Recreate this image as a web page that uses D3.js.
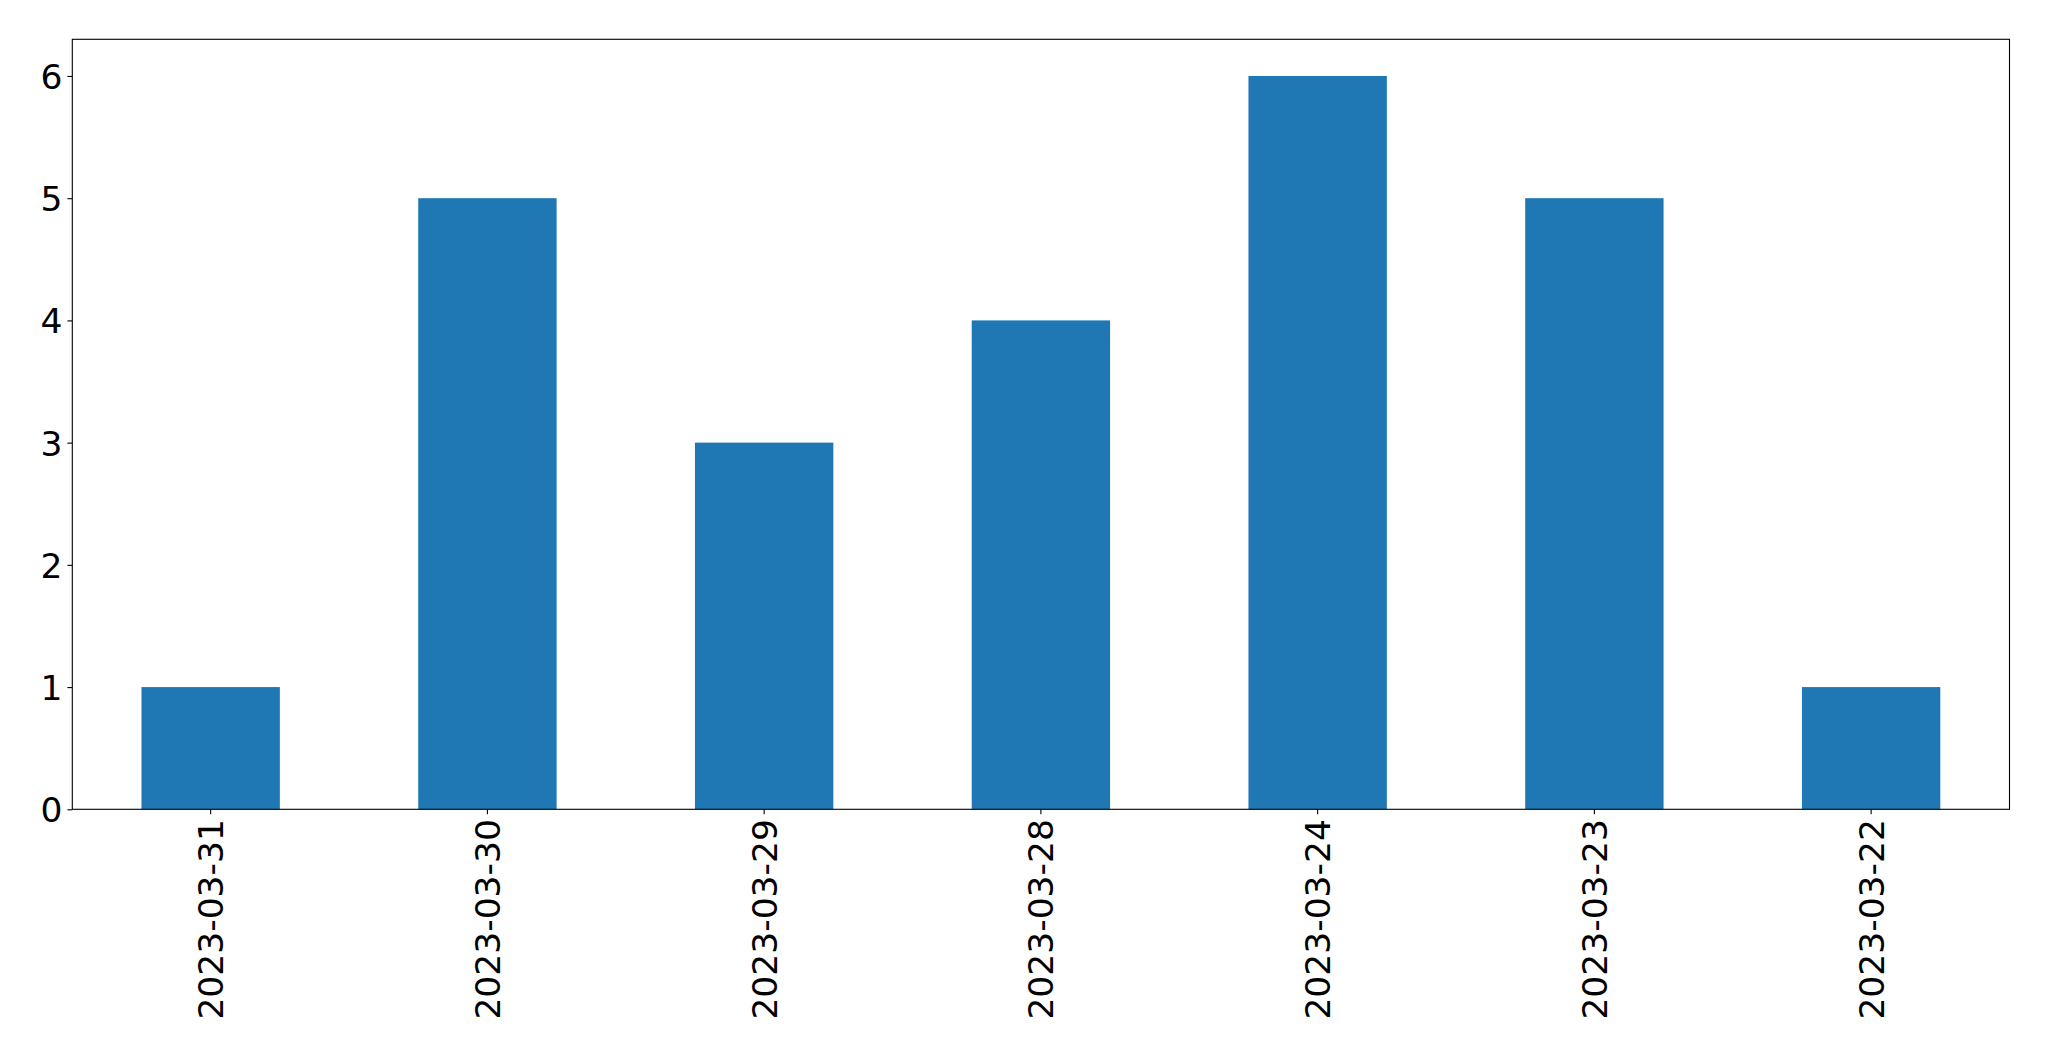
<!DOCTYPE html>
<html>
<head>
<meta charset="utf-8">
<script src="https://cdn.jsdelivr.net/npm/d3@7"></script>
<style>
  html, body { margin: 0; padding: 0; background: #fff; }
  svg { display: block; }
  text { font-family: "DejaVu Sans", sans-serif; fill: #000; }
</style>
</head>
<body>
<svg id="chart" width="2049" height="1061"></svg>
<script>
const categories = ["2023-03-31", "2023-03-30", "2023-03-29", "2023-03-28", "2023-03-24", "2023-03-23", "2023-03-22"];
const values = [1, 5, 3, 4, 6, 5, 1];
const yTicks = [0, 1, 2, 3, 4, 5, 6];

(function () {
const mLeft = 72.3, mRight = 2009.5, mTop = 39.3, mBottom = 809.3;
const fontSize = 34.5;
const tickLen = 4.9, pad = 4.9;

const svg = d3.select("#chart");

const x = d3.scaleBand().domain(categories).range([mLeft, mRight]).paddingInner(0.5).paddingOuter(0.25);
const y = d3.scaleLinear().domain([0, 6.3]).range([mBottom, mTop]);

svg.append("g").selectAll("rect").data(categories).join("rect")
  .attr("x", d => x(d))
  .attr("width", x.bandwidth())
  .attr("y", (d, i) => y(values[i]))
  .attr("height", (d, i) => y(0) - y(values[i]))
  .attr("fill", "#1f77b4");

// y axis
const yAxis = svg.append("g").attr("transform", `translate(${mLeft},0)`)
  .call(d3.axisLeft(y).tickValues(yTicks).tickFormat(d3.format("d")).tickSizeInner(tickLen).tickSizeOuter(0).tickPadding(pad));
yAxis.select(".domain").remove();
yAxis.selectAll("line").attr("stroke", "#000").attr("stroke-width", 1.1);
yAxis.selectAll("text").attr("font-size", fontSize).attr("font-family", "DejaVu Sans").attr("dy", "0.36em");

// x axis
const xAxis = svg.append("g").attr("transform", `translate(0,${mBottom})`)
  .call(d3.axisBottom(x).tickSizeInner(tickLen).tickSizeOuter(0).tickPadding(pad));
xAxis.select(".domain").remove();
xAxis.selectAll("line").attr("stroke", "#000").attr("stroke-width", 1.1);
xAxis.selectAll("text")
  .attr("font-size", fontSize)
  .attr("font-family", "DejaVu Sans")
  .attr("text-anchor", "end")
  .attr("x", 0).attr("y", 0)
  .attr("dy", "0.36em")
  .attr("transform", `translate(0,${tickLen + pad}) rotate(-90)`);

// frame
svg.append("rect")
  .attr("x", mLeft).attr("y", mTop)
  .attr("width", mRight - mLeft).attr("height", mBottom - mTop)
  .attr("fill", "none").attr("stroke", "#000").attr("stroke-width", 1.1);
})();
</script>
</body>
</html>
